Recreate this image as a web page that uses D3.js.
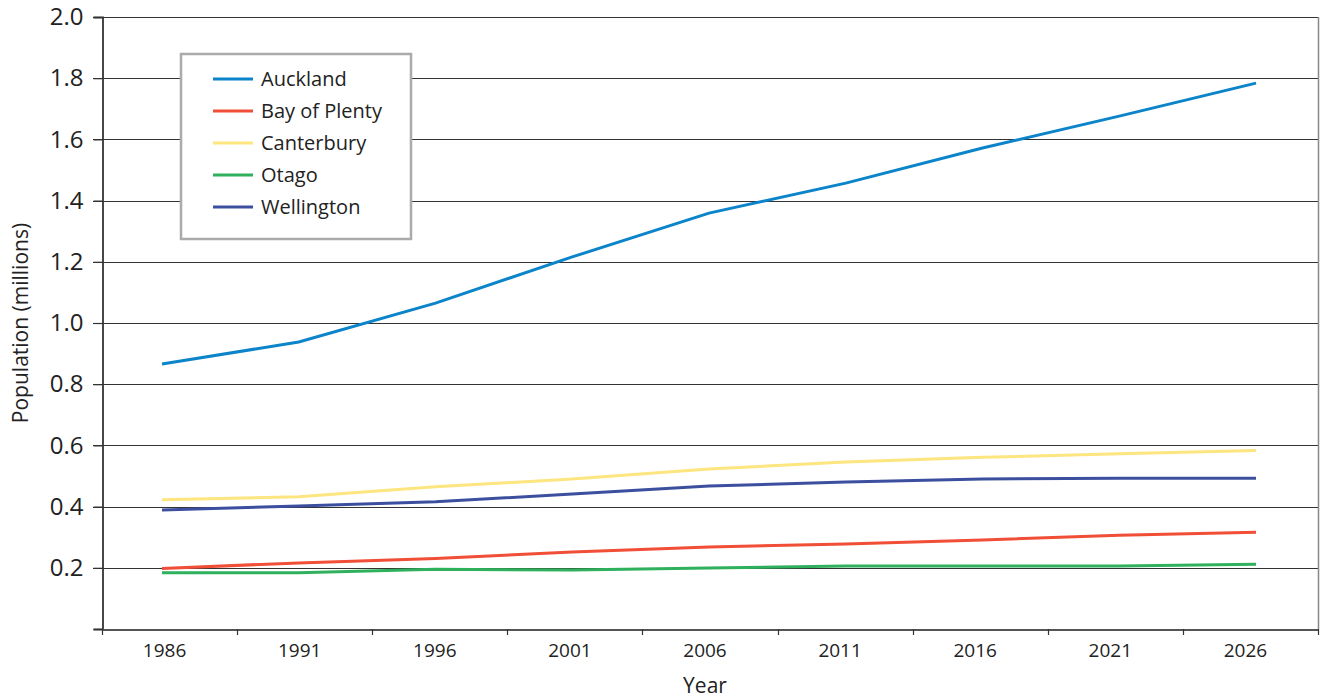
<!DOCTYPE html>
<html>
<head>
<meta charset="utf-8">
<script src="https://cdn.jsdelivr.net/npm/d3@7"></script>
<style>
  body { margin: 0; background: #fff; }
  text { font-family: "Open Sans", "Noto Sans", sans-serif; fill: #222; }
</style>
</head>
<body>
<div class="container"></div>
<script>
var years = ["1986", "1991", "1996", "2001", "2006", "2011", "2016", "2021", "2026"];
var regions = ["Auckland", "Bay of Plenty", "Canterbury", "Otago", "Wellington"];
var colors = ["#0b84c9", "#f04e37", "#fde57f", "#2fb05c", "#3c4f9f"];

var auckland = [0.866, 0.938, 1.065, 1.216, 1.359, 1.457, 1.572, 1.676, 1.784];
var bayOfPlenty = [0.198, 0.216, 0.230, 0.252, 0.268, 0.278, 0.291, 0.306, 0.316];
var canterbury = [0.422, 0.432, 0.465, 0.490, 0.523, 0.546, 0.561, 0.573, 0.583];
var otago = [0.184, 0.184, 0.195, 0.193, 0.199, 0.206, 0.206, 0.206, 0.212];
var wellington = [0.389, 0.402, 0.416, 0.441, 0.467, 0.480, 0.490, 0.493, 0.493];

var yTicks = [0.2, 0.4, 0.6, 0.8, 1.0, 1.2, 1.4, 1.6, 1.8, 2.0];

var seriesValues = [auckland, bayOfPlenty, canterbury, otago, wellington];

var width = 1323;
var height = 699;
var plot = { left: 102, right: 1318, top: 17, bottom: 629 };

var svg = d3
  .select(".container")
  .append("svg")
  .attr("width", width)
  .attr("height", height);

var x = d3.scaleBand().domain(years).range([plot.left, plot.right]);
// points sit a bit off the band centres in the original
var xp = d3.scalePoint().domain(years).range([162, 1256]);
var y = d3.scaleLinear().domain([0, 2.0]).range([plot.bottom, plot.top]);

// gridlines
svg
  .selectAll("line.grid")
  .data(yTicks)
  .enter()
  .append("line")
  .attr("class", "grid")
  .attr("x1", plot.left - 9)
  .attr("x2", plot.right)
  .attr("y1", (d) => Math.round(y(d)) + 0.5)
  .attr("y2", (d) => Math.round(y(d)) + 0.5)
  .attr("stroke", "#333")
  .attr("stroke-width", 1.2);

// right border
svg
  .append("line")
  .attr("x1", plot.right + 0.5)
  .attr("x2", plot.right + 0.5)
  .attr("y1", plot.top)
  .attr("y2", plot.bottom)
  .attr("stroke", "#888")
  .attr("stroke-width", 1.5);

// y axis
var yAxis = svg
  .append("g")
  .attr("transform", `translate(${plot.left + 0.5},0)`)
  .call(
    d3.axisLeft(y)
      .tickValues([0].concat(yTicks))
      .tickSize(9)
      .tickPadding(10)
      .tickFormat((d) => (d === 0 ? "" : d3.format(".1f")(d)))
  );
yAxis.select(".domain").attr("stroke", "#333").attr("stroke-width", 1.8);
yAxis.selectAll(".tick line").attr("stroke", "#333").attr("stroke-width", 1.2);
yAxis.selectAll("text").style("font-size", "24px").attr("fill", "#222");

// x axis
var xAxis = svg
  .append("g")
  .attr("transform", `translate(0,${plot.bottom + 0.5})`)
  .call(d3.axisBottom(x).tickSize(0).tickPadding(14));
xAxis.select(".domain").attr("stroke", "#555").attr("stroke-width", 1.8);
xAxis
  .selectAll("text")
  .style("font-size", "19px")
  .attr("fill", "#222")
  .attr("dx", -5);

// tick marks between categories
var tickPos = years.map((d) => x(d)).concat([plot.right]);
svg
  .selectAll("line.xtick")
  .data(tickPos)
  .enter()
  .append("line")
  .attr("class", "xtick")
  .attr("x1", (d) => Math.round(d) + 0.5)
  .attr("x2", (d) => Math.round(d) + 0.5)
  .attr("y1", plot.bottom)
  .attr("y2", plot.bottom + 6)
  .attr("stroke", "#333")
  .attr("stroke-width", 1.2);

// lines
var line = d3
  .line()
  .x((d, i) => xp(years[i]))
  .y((d) => y(d));

svg
  .selectAll("path.series")
  .data(seriesValues)
  .enter()
  .append("path")
  .attr("class", "series")
  .attr("d", (d) => line(d))
  .attr("fill", "none")
  .attr("stroke", (d, i) => colors[i])
  .attr("stroke-width", 3);

// axis titles
svg
  .append("text")
  .attr("x", 705)
  .attr("y", 693)
  .attr("text-anchor", "middle")
  .style("font-size", "21px")
  .text("Year");

svg
  .append("text")
  .attr("transform", "translate(28,323) rotate(-90)")
  .attr("text-anchor", "middle")
  .style("font-size", "21px")
  .text("Population (millions)");

// legend
var legend = svg.append("g").attr("transform", "translate(181,54)");
legend
  .append("rect")
  .attr("width", 230)
  .attr("height", 185)
  .attr("fill", "#fff")
  .attr("stroke", "#aaa")
  .attr("stroke-width", 2.5);

var item = legend
  .selectAll("g.item")
  .data(regions)
  .enter()
  .append("g")
  .attr("class", "item")
  .attr("transform", (d, i) => `translate(0,${25 + i * 32})`);

item
  .append("line")
  .attr("x1", 32)
  .attr("x2", 72)
  .attr("stroke", (d, i) => colors[i])
  .attr("stroke-width", 3);

item
  .append("text")
  .attr("x", 80)
  .attr("dy", "0.35em")
  .style("font-size", "20px")
  .text((d) => d);
</script>
</body>
</html>
